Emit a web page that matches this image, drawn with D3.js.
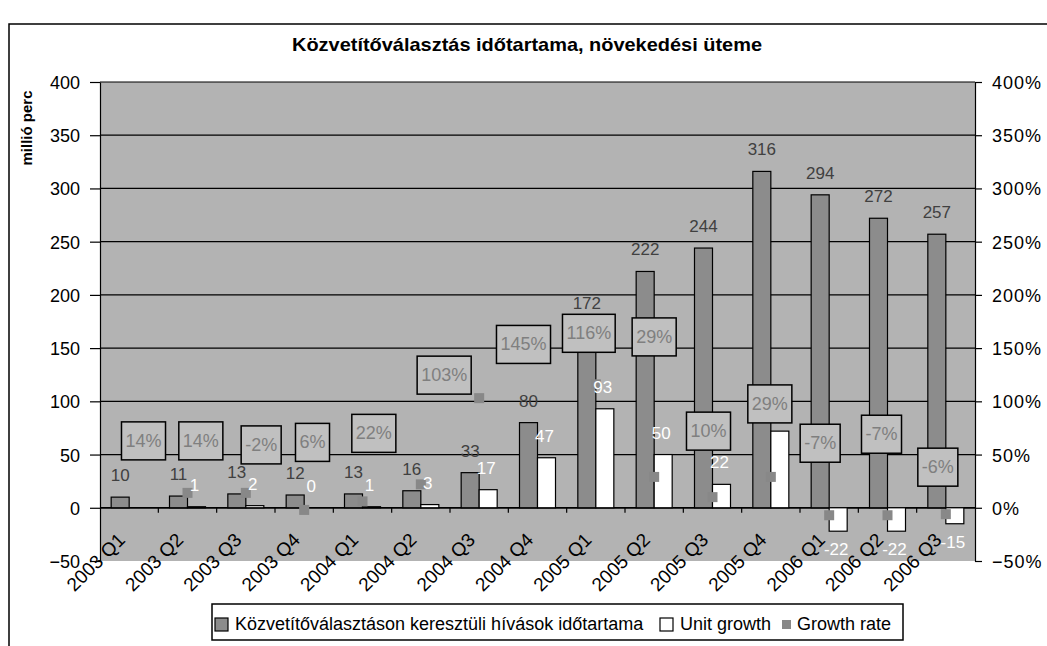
<!DOCTYPE html>
<html>
<head>
<meta charset="utf-8">
<script src="https://cdn.jsdelivr.net/npm/d3@7"></script>
<style>
  body { margin: 0; background: #fff; }
  svg { display: block; font-family: "Liberation Sans", Arial, sans-serif; }
  .axis text { font-size: 18px; fill: #000; }
  .axis path, .axis line { stroke: #000; stroke-width: 1.2; }
</style>
</head>
<body>
<div id="chart"></div>
<script>
//////////////////////////////////////////////////////////
/////////////////////// Data /////////////////////////////
//////////////////////////////////////////////////////////

var quarters = ["2003 Q1","2003 Q2","2003 Q3","2003 Q4","2004 Q1","2004 Q2","2004 Q3","2004 Q4",
                "2005 Q1","2005 Q2","2005 Q3","2005 Q4","2006 Q1","2006 Q2","2006 Q3"];
var duration   = [10, 11, 13, 12, 13, 16, 33, 80, 172, 222, 244, 316, 294, 272, 257];
var unitGrowth = [null, 1, 2, 0, 1, 3, 17, 47, 93, 50, 22, 72, -22, -22, -15];
var growthRate = [null, 14, 14, -2, 6, 22, 103, 145, 116, 29, 10, 29, -7, -7, -6];
var leftTicks  = [-50, 0, 50, 100, 150, 200, 250, 300, 350, 400];
var seriesNames = ["Közvetítőválasztáson keresztüli hívások időtartama", "Unit growth", "Growth rate"];

//unit growth labels that sit under a growth rate box in the original
var hiddenUnitLabels = ["2005 Q4"];

//the growth rate boxes were dragged by hand in the original, offsets from the marker
var rateBoxShift = [null, [-44,-52], [-45,-52], [-43,-65], [-50,-59], [-47,-51], [-35,-23], [-14,-9],
                    [-7,-51], [0,-140], [-4,-66], [-1,-73], [-9,-72], [-6,-81], [-8,-47]];

//////////////////////////////////////////////////////////
/////////////////////// Set-up ///////////////////////////
//////////////////////////////////////////////////////////

var width = 1047, height = 646;
var plot = {left: 100, right: 975, top: 82, bottom: 561};

var svg = d3.select("#chart").append("svg")
	.attr("width", width)
	.attr("height", height);

var x = d3.scaleBand()
	.domain(quarters)
	.range([plot.left, plot.right]);

var xInner = d3.scaleBand()
	.domain(["duration","unit"])
	.range([0, x.bandwidth()])
	.paddingOuter(0.62);

var y = d3.scaleLinear()
	.domain([-50, 400])
	.range([plot.bottom, plot.top]);

var yRight = d3.scaleLinear()
	.domain([-0.5, 4])
	.range([plot.bottom, plot.top]);

//Outer frame of the chart object
svg.append("path")
	.attr("d", "M9,646V24H1047")
	.style("fill", "none")
	.style("stroke", "#000")
	.style("stroke-width", 1.5);

//Title
svg.append("text")
	.attr("x", 527)
	.attr("y", 51)
	.attr("text-anchor", "middle")
	.attr("textLength", 470)
	.attr("lengthAdjust", "spacingAndGlyphs")
	.style("font-size", "19px")
	.style("font-weight", "bold")
	.text("Közvetítőválasztás időtartama, növekedési üteme");

//Plot area
svg.append("rect")
	.attr("x", plot.left)
	.attr("y", plot.top)
	.attr("width", plot.right - plot.left)
	.attr("height", plot.bottom - plot.top)
	.style("fill", "#b3b3b3");

//Gridlines
svg.selectAll(".grid")
	.data(leftTicks.filter(function(d) { return d >= 0; }))
	.enter().append("line")
	.attr("class", "grid")
	.attr("x1", plot.left)
	.attr("x2", plot.right)
	.attr("y1", function(d) { return y(d); })
	.attr("y2", function(d) { return y(d); })
	.style("stroke", "#000")
	.style("stroke-width", 1.2);

//////////////////////////////////////////////////////////
/////////////////////// Axes /////////////////////////////
//////////////////////////////////////////////////////////

svg.append("g")
	.attr("class", "axis")
	.attr("transform", "translate(" + plot.left + ",0)")
	.call(d3.axisLeft(y).tickValues(leftTicks).tickSize(10).tickSizeOuter(0).tickPadding(10));

svg.append("g")
	.attr("class", "axis")
	.attr("transform", "translate(" + plot.right + ",0)")
	.call(d3.axisRight(yRight).tickValues(leftTicks.map(function(d) { return d / 100; }))
		.tickSize(7).tickSizeOuter(0).tickPadding(10).tickFormat(d3.format(".0%")))
	.selectAll("text").style("letter-spacing", "1px");

svg.selectAll(".axis .tick text").attr("dy", "0.36em");

//Category axis at zero
svg.append("line")
	.attr("x1", plot.left)
	.attr("x2", plot.right)
	.attr("y1", y(0))
	.attr("y2", y(0))
	.style("stroke", "#000")
	.style("stroke-width", 1.5);

svg.selectAll(".x-tick")
	.data(quarters.slice(1))
	.enter().append("line")
	.attr("class", "x-tick")
	.attr("x1", function(d) { return x(d); })
	.attr("x2", function(d) { return x(d); })
	.attr("y1", y(0))
	.attr("y2", y(0) + 5)
	.style("stroke", "#000")
	.style("stroke-width", 1.2);

svg.selectAll(".x-label")
	.data(quarters)
	.enter().append("text")
	.attr("class", "x-label")
	.attr("text-anchor", "end")
	.attr("transform", function(d) {
		return "translate(" + (x(d) + x.bandwidth() / 2 - 3) + "," + 541 + ")rotate(-45)";
	})
	.style("font-size", "19px")
	.text(function(d) { return d; });

//y axis title
svg.append("text")
	.attr("transform", "translate(32,128)rotate(-90)")
	.attr("text-anchor", "middle")
	.style("font-size", "15px")
	.style("font-weight", "bold")
	.text("millió perc");

//////////////////////////////////////////////////////////
/////////////////////// Bars /////////////////////////////
//////////////////////////////////////////////////////////

var barData = quarters.map(function(q, i) {
	return {q: q, duration: duration[i], unit: unitGrowth[i], rate: growthRate[i], i: i};
});

svg.selectAll(".bar-duration")
	.data(barData)
	.enter().append("rect")
	.attr("class", "bar-duration")
	.attr("x", function(d) { return x(d.q) + xInner("duration"); })
	.attr("width", xInner.bandwidth())
	.attr("y", function(d) { return y(d.duration); })
	.attr("height", function(d) { return y(0) - y(d.duration); })
	.style("fill", "#8c8c8c")
	.style("stroke", "#000")
	.style("stroke-width", 1.2);

var unitData = barData.filter(function(d) { return d.unit !== null; });

svg.selectAll(".bar-unit")
	.data(unitData)
	.enter().append("rect")
	.attr("class", "bar-unit")
	.attr("x", function(d) { return x(d.q) + xInner("unit"); })
	.attr("width", xInner.bandwidth())
	.attr("y", function(d) { return y(Math.max(0, d.unit)); })
	.attr("height", function(d) { return Math.abs(y(0) - y(d.unit)); })
	.style("fill", "#fff")
	.style("stroke", "#000")
	.style("stroke-width", 1.2);

//Growth rate markers
var rateData = barData.filter(function(d) { return d.rate !== null; });

svg.selectAll(".rate-marker")
	.data(rateData)
	.enter().append("rect")
	.attr("class", "rate-marker")
	.attr("x", function(d) { return x(d.q) + x.bandwidth() / 2 - 5; })
	.attr("y", function(d) { return yRight(d.rate / 100) - 5; })
	.attr("width", 10)
	.attr("height", 10)
	.style("fill", "#888");

//Value labels
svg.selectAll(".label-duration")
	.data(barData)
	.enter().append("text")
	.attr("class", "label-duration")
	.attr("x", function(d) { return x(d.q) + xInner("duration") + xInner.bandwidth() / 2; })
	.attr("y", function(d) { return y(d.duration) - 16; })
	.attr("text-anchor", "middle")
	.style("font-size", "17px")
	.style("fill", "#404040")
	.text(function(d) { return d.duration; });

svg.selectAll(".label-unit")
	.data(unitData.filter(function(d) { return hiddenUnitLabels.indexOf(d.q) === -1; }))
	.enter().append("text")
	.attr("class", "label-unit")
	.attr("x", function(d) { return x(d.q) + xInner("unit") + xInner.bandwidth() / 2 - 2; })
	.attr("y", function(d) { return d.unit >= 0 ? y(d.unit) - 16 : y(d.unit) + 24; })
	.attr("text-anchor", "middle")
	.style("font-size", "17px")
	.style("fill", "#fff")
	.text(function(d) { return d.unit; });

//Growth rate boxes
var rateBox = svg.selectAll(".rate-box")
	.data(rateData)
	.enter().append("g")
	.attr("class", "rate-box")
	.attr("transform", function(d) {
		var s = rateBoxShift[d.i];
		return "translate(" + (x(d.q) + x.bandwidth() / 2 + s[0]) + "," + (yRight(d.rate / 100) + s[1]) + ")";
	});

rateBox.append("rect");

rateBox.append("text")
	.attr("text-anchor", "middle")
	.attr("dy", "0.33em")
	.style("font-size", "18px")
	.style("fill", "#7f7f7f")
	.text(function(d) { return d.rate + "%"; });

rateBox.each(function() {
	var g = d3.select(this);
	var w = g.select("text").node().getComputedTextLength() + 8;
	g.select("rect")
		.attr("x", -w / 2)
		.attr("y", -19)
		.attr("width", w)
		.attr("height", 38)
		.style("fill", "#c0c0c0")
		.style("stroke", "#000")
		.style("stroke-width", 1.5);
});

//////////////////////////////////////////////////////////
/////////////////////// Legend ///////////////////////////
//////////////////////////////////////////////////////////

var legend = svg.append("g").attr("class", "legend");

legend.append("rect")
	.attr("x", 212)
	.attr("y", 604)
	.attr("width", 691)
	.attr("height", 36)
	.style("fill", "#fff")
	.style("stroke", "#000")
	.style("stroke-width", 1.5);

var legendStart = [215, 660, 782];
var legendFill = ["#8c8c8c", "#fff", "#888"];

seriesNames.forEach(function(name, i) {
	var sx = legendStart[i];
	if (i < 2) {
		legend.append("rect")
			.attr("x", sx).attr("y", 618).attr("width", 13).attr("height", 13)
			.style("fill", legendFill[i]).style("stroke", "#000").style("stroke-width", 1.2);
	} else {
		legend.append("rect")
			.attr("x", sx).attr("y", 620).attr("width", 9).attr("height", 9)
			.style("fill", legendFill[i]);
	}
	legend.append("text")
		.attr("x", sx + (i < 2 ? 20 : 15))
		.attr("y", 630)
		.style("font-size", "18px")
		.text(name);
});
</script>
</body>
</html>
